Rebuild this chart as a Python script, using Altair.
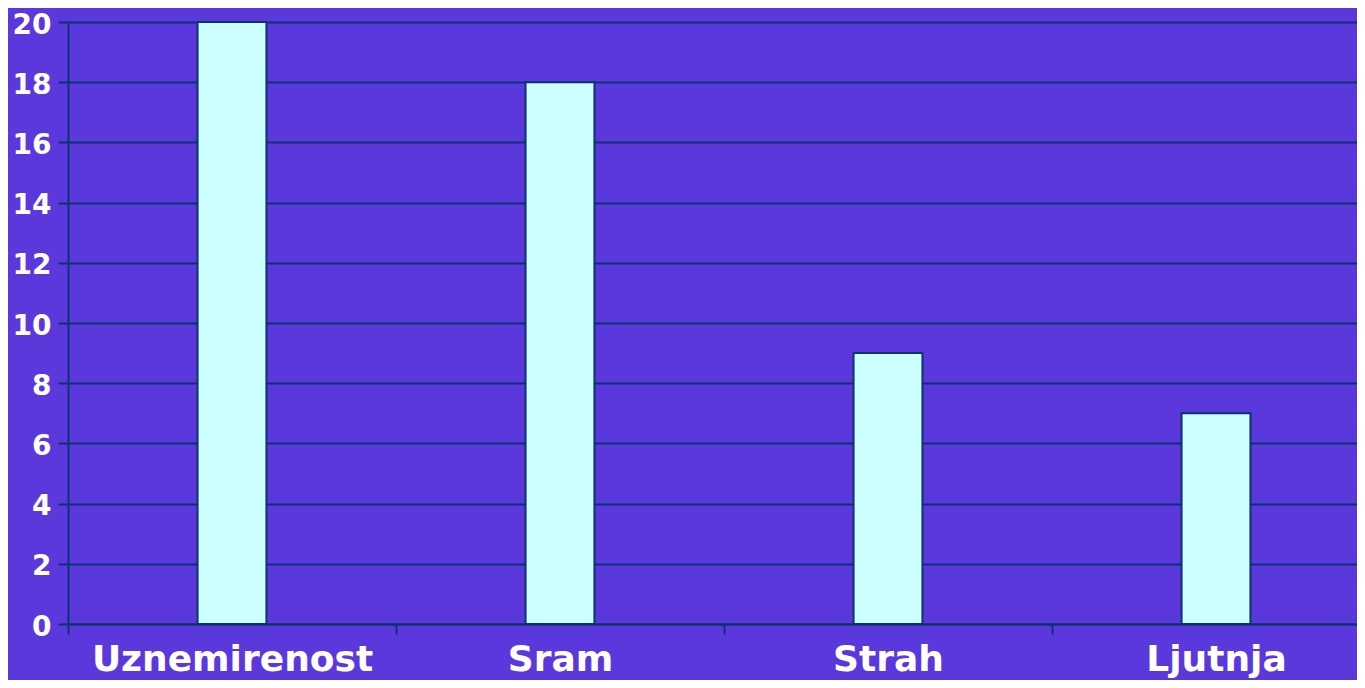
import altair as alt
import pandas as pd

categories = ["Uznemirenost", "Sram", "Strah", "Ljutnja"]
values = [20, 18, 9, 7]

df = pd.DataFrame({"kategorija": categories, "vrijednost": values})

BG = "#5B38DC"
NAVY = "#0B3370"

chart = alt.Chart(df).mark_bar(
    fill="#CCFFFF", stroke=NAVY, strokeWidth=2,
    width=alt.RelativeBandSize(0.21)
).encode(
    x=alt.X("kategorija:N", sort=categories, title=None,
            scale=alt.Scale(range=[0, 1312], paddingInner=0, paddingOuter=0),
            axis=alt.Axis(labelAngle=0, labelFont="DejaVu Sans", labelFontWeight="bold",
                          labelFontSize=36, labelColor="white", labelPadding=8,
                          labelLimit=0, labelOverlap=False,
                          tickBand="extent", tickSize=10, tickColor=NAVY, tickWidth=2,
                          domainColor=NAVY, domainWidth=2, grid=False)),
    y=alt.Y("vrijednost:Q", title=None,
            scale=alt.Scale(domain=[0, 20], nice=False),
            axis=alt.Axis(values=list(range(0, 21, 2)), labelFont="DejaVu Sans",
                          labelFontWeight="bold", labelFontSize=28, labelColor="white",
                          labelPadding=7, labelOffset=3, labelFlush=False,
                          tickSize=10, tickColor=NAVY, tickWidth=2,
                          domainColor=NAVY, domainWidth=2, grid=True, gridColor=NAVY,
                          gridWidth=2, gridOpacity=1)),
).properties(
    width=1289, height=602,
    autosize=alt.AutoSizeParams(type="none"),
    padding={"left": 60, "top": 14, "right": 0, "bottom": 56},
    background=BG,
).configure_view(stroke=None, fill=BG)

chart.save("out.html", embed_options={"renderer": "svg", "actions": False})
